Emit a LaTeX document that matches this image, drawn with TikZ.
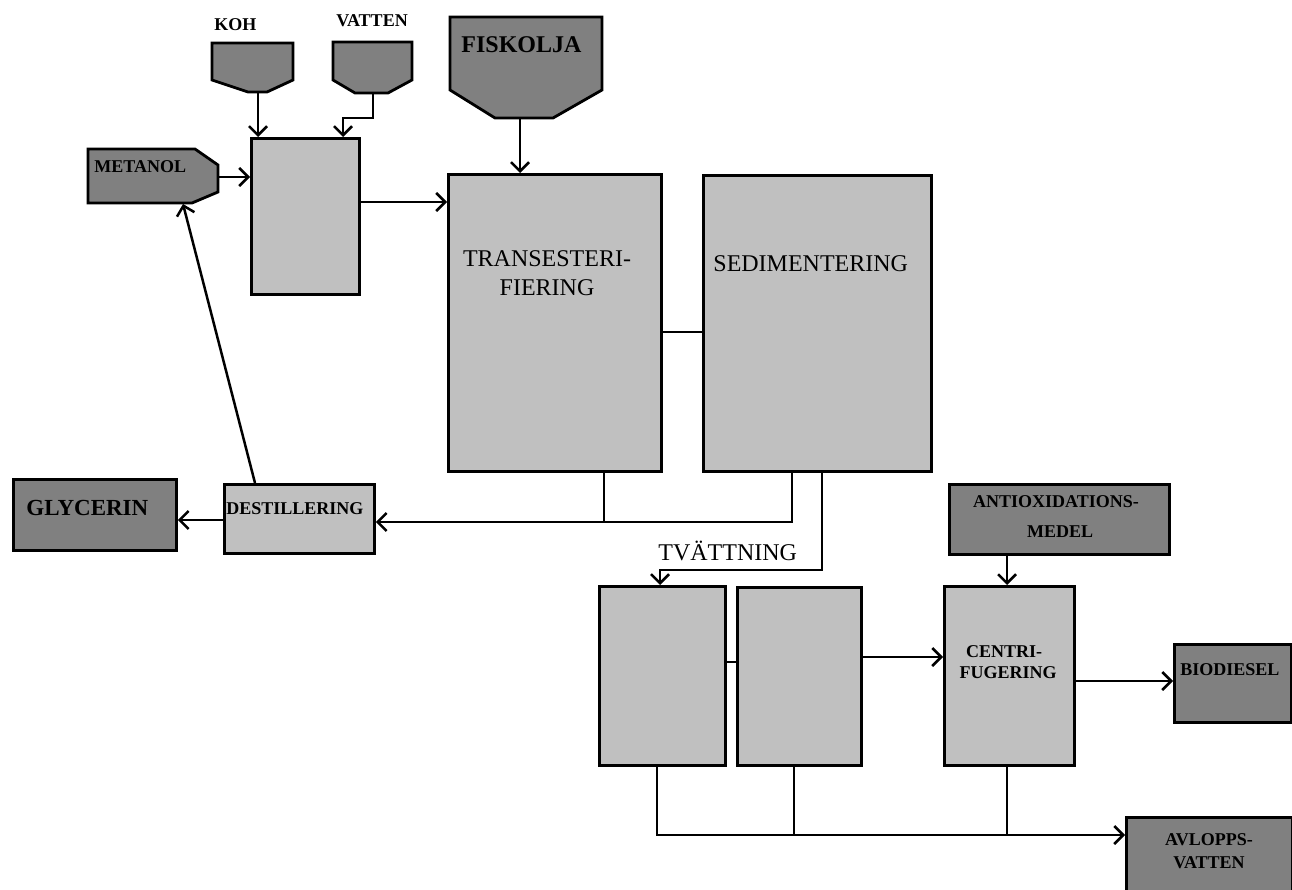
\documentclass[tikz,border=0pt]{standalone}
\usepackage{fontspec}
\setmainfont{Liberation Serif}
\usetikzlibrary{arrows.meta}
\definecolor{dgray}{HTML}{808080}
\definecolor{lgray}{HTML}{C0C0C0}
\begin{document}
\begin{tikzpicture}[x=1pt,y=-1pt,
  line width=2.8pt,
  lbox/.style={draw=black, fill=lgray, rectangle, inner sep=0pt, anchor=north west},
  dbox/.style={draw=black, fill=dgray, rectangle, inner sep=0pt, anchor=north west},
  tank/.style={draw=black, fill=dgray, line width=2.8pt},
  conn/.style={line width=2.5pt},
  arr/.style={conn, -{Straight Barb[length=9pt,width=18pt,line width=2.5pt]}},
  sl/.style={font=\bfseries\fontsize{18}{20}\selectfont, inner sep=0pt, anchor=base west},
  slc/.style={sl, anchor=base},
  bl/.style={font=\bfseries\fontsize{24}{28}\selectfont, inner sep=0pt, anchor=base west},
  rl/.style={font=\fontsize{24}{28}\selectfont, inner sep=0pt, anchor=base west},
  rlc/.style={rl, anchor=base},
]
\useasboundingbox (0,0) rectangle (1292,890);
\clip (0,0) rectangle (1292,890);
\fill[white] (0,0) rectangle (1292,890);

% feed tanks
\draw[tank] (212,43) -- (293,43) -- (293,80) -- (267,92) -- (248,92) -- (212,80) -- cycle;
\coordinate (kohb) at (258,92);
\node[sl] (koh) at (213,31) {KOH};

\draw[tank] (333,42) -- (412,42) -- (412,80) -- (388,93) -- (355,93) -- (333,80) -- cycle;
\coordinate (vatb) at (373,93);
\node[sl] (vat) at (335,27) {VATTEN};

\draw[tank] (88,149) -- (195,149) -- (218,165) -- (218,192) -- (192,203) -- (88,203) -- cycle;
\coordinate (mete) at (218,177);
\coordinate (metb) at (183,204);
\node[sl] (met) at (93,173) {METANOL};

\draw[tank] (450,17) -- (602,17) -- (602,90) -- (553,118) -- (495,118) -- (450,90) -- cycle;
\coordinate (fiskb) at (520,118);
\node[bl] (fisk) at (460,53) {FISKOLJA};

% process boxes
\node[lbox, minimum width=108pt, minimum height=156pt] (mix) at (250,137) {};
\node[lbox, minimum width=213pt, minimum height=297pt] (trans) at (447,173) {};
\node[lbox, minimum width=228pt, minimum height=296pt] (sed) at (702,174) {};
\node[lbox, minimum width=150pt, minimum height=69pt] (dest) at (223,483) {};
\node[dbox, minimum width=163pt, minimum height=71pt] (gly) at (12,478) {};
\node[lbox, minimum width=126pt, minimum height=179pt] (wash1) at (598,585) {};
\node[lbox, minimum width=124pt, minimum height=178pt] (wash2) at (736,586) {};
\node[lbox, minimum width=130pt, minimum height=179pt] (cent) at (943,585) {};
\node[dbox, minimum width=220pt, minimum height=70pt] (anti) at (948,483) {};
\node[dbox, minimum width=117pt, minimum height=78pt] (bio) at (1173,643) {};
\node[dbox, minimum width=166pt, minimum height=76pt] (avl) at (1125,816) {};

% texts
\node[rlc] (transt1) at (547,267) {TRANSESTERI-};
\node[rlc] (transt2) at (547,296) {FIERING};
\node[rl] (sedt) at (712,272) {SEDIMENTERING};
\node[sl] (destt) at (225,514) {DESTILLERING};
\node[bl, font=\bfseries\fontsize{23}{26}\selectfont] (glyt) at (25,515) {GLYCERIN};
\node[rl] (tvt) at (657,560) {TVÄTTNING};
\node[slc] (antit1) at (1056,507) {ANTIOXIDATIONS-};
\node[slc] (antit2) at (1060,537) {MEDEL};
\node[slc] (centt1) at (1004,657) {CENTRI-};
\node[slc] (centt2) at (1008,678) {FUGERING};
\node[sl] (biot) at (1179,675) {BIODIESEL};
\node[slc] (avlt1) at (1209,845) {AVLOPPS-};
\node[slc] (avlt2) at (1209,868) {VATTEN};

% connectors
\draw[arr] (kohb) -- (kohb |- mix.north);
\draw[arr] (vatb) -- (373,118) -| (mix.north -| 343,0);
\draw[arr] (mete) -- (mete -| mix.west);
\draw[arr] (mix.east |- 0,202) -- (trans.west |- 0,202);
\draw[arr] (fiskb) -- (fiskb |- trans.north);
\draw[conn] (trans.east |- 0,332) -- (sed.west |- 0,332);
\coordinate (j1) at (604,522);
\draw[conn] (trans.south -| j1) -- (j1);
\draw[arr] (sed.south -| 792,0) |- (dest.east |- j1);
\draw[arr] (dest.west |- 0,520) -- (gly.east |- 0,520);
\draw[arr] (dest.north -| 255,0) -- (metb);
\draw[arr] (sed.south -| 822,0) |- (660,570) -- (wash1.north -| 660,0);
\draw[conn] (wash1.east |- 0,662) -- (wash2.west |- 0,662);
\draw[arr] (wash2.east |- 0,657) -- (cent.west |- 0,657);
\draw[arr] (anti.south -| 1007,0) -- (cent.north -| 1007,0);
\draw[arr] (cent.east |- 0,681) -- (bio.west |- 0,681);
\coordinate (j2) at (794,835);
\coordinate (j3) at (1007,835);
\draw[arr] (wash1.south -| 657,0) |- (avl.west |- j2);
\draw[conn] (wash2.south -| j2) -- (j2);
\draw[conn] (cent.south -| j3) -- (j3);
\end{tikzpicture}
\end{document}
